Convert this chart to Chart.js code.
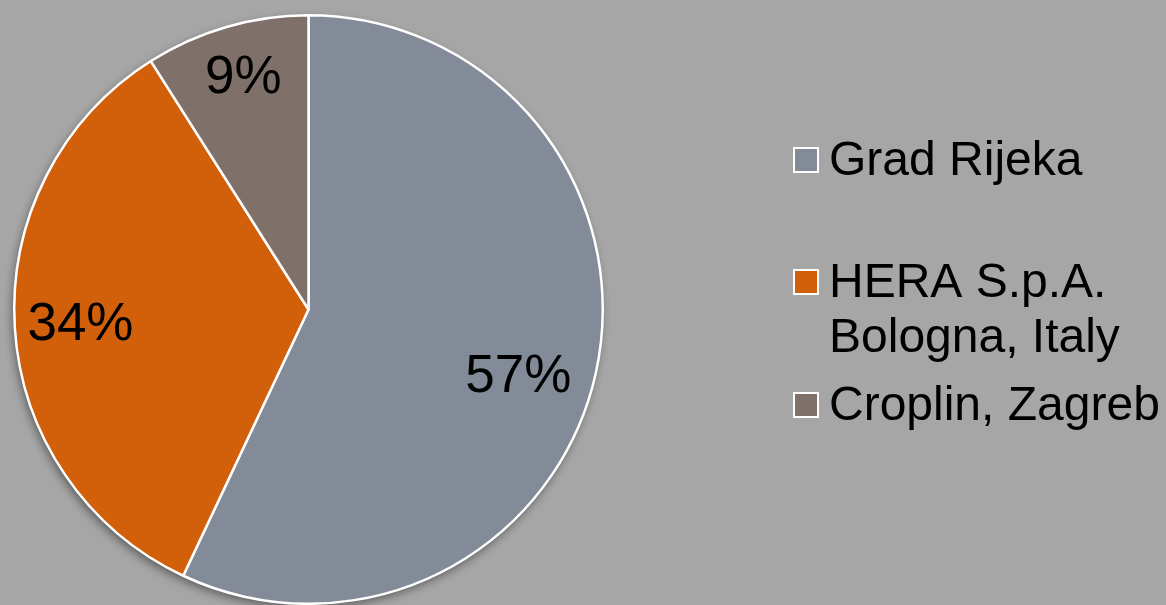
<!DOCTYPE html>
<html>
<head>
<meta charset="utf-8">
<script src="https://cdn.jsdelivr.net/npm/chart.js@4/dist/chart.umd.min.js"></script>
<style>
html,body{margin:0;padding:0;background:#a6a6a6;}
#wrap{width:1166px;height:605px;position:relative;}
</style>
</head>
<body>
<div id="wrap"><canvas id="c" width="1166" height="605"></canvas></div>
<script>
const categories = ['Grad Rijeka', ['HERA S.p.A.', 'Bologna, Italy'], 'Croplin, Zagreb'];
const shares = [57, 34, 9];
const sliceColors = ['#838b99', '#d2600a', '#7f706a'];

const FONT = '"Liberation Sans", Arial, sans-serif';

const shadowPlugin = {
  id: 'pieShadow',
  beforeDatasetsDraw(chart) {
    const arc = chart.getDatasetMeta(0).data[0];
    if (!arc) return;
    const ctx = chart.ctx;
    ctx.save();
    ctx.shadowColor = 'rgba(0,0,0,0.45)';
    ctx.shadowBlur = 10;
    ctx.shadowOffsetX = -2;
    ctx.shadowOffsetY = 4;
    ctx.fillStyle = '#888';
    ctx.beginPath();
    ctx.arc(arc.x, arc.y, arc.outerRadius, 0, Math.PI * 2);
    ctx.fill();
    ctx.restore();
  }
};

// label placement (best-fit style): radius factor and angle nudge (degrees) per slice
const labelRadius = [0.75, 0.777, 0.815];
const labelNudge = [5.4, -0.5, 0.4];

const labelPlugin = {
  id: 'pctLabels',
  afterDatasetsDraw(chart) {
    const ctx = chart.ctx;
    const meta = chart.getDatasetMeta(0);
    const data = chart.data.datasets[0].data;
    const total = data.reduce((a, b) => a + b, 0);
    ctx.save();
    ctx.font = '53px ' + FONT;
    ctx.fillStyle = '#000';
    ctx.textAlign = 'center';
    ctx.textBaseline = 'middle';
    meta.data.forEach((arc, i) => {
      const mid = (arc.startAngle + arc.endAngle) / 2 + labelNudge[i] * Math.PI / 180;
      const r = arc.outerRadius * labelRadius[i];
      const x = arc.x + Math.cos(mid) * r;
      const y = arc.y + Math.sin(mid) * r;
      ctx.fillText(Math.round(data[i] / total * 100) + '%', x, y);
    });
    ctx.restore();
  }
};

const legendPlugin = {
  id: 'sideLegend',
  afterDraw(chart) {
    const ctx = chart.ctx;
    const labels = chart.data.labels;
    const colors = chart.data.datasets[0].backgroundColor;
    const rowY = [160, 282, 405];
    const lineH = 55;
    ctx.save();
    ctx.font = '48px ' + FONT;
    ctx.textBaseline = 'middle';
    ctx.textAlign = 'left';
    labels.forEach((lab, i) => {
      const lines = Array.isArray(lab) ? lab : [lab];
      const y = rowY[i];
      ctx.fillStyle = '#ffffff';
      ctx.fillRect(793, y - 13, 26, 26);
      ctx.fillStyle = colors[i];
      ctx.fillRect(795, y - 11, 22, 22);
      ctx.fillStyle = '#000';
      lines.forEach((ln, k) => ctx.fillText(ln, 829, y + 2 + k * lineH));
    });
    ctx.restore();
  }
};

new Chart(document.getElementById('c'), {
  type: 'pie',
  data: {
    labels: categories,
    datasets: [{
      data: shares,
      backgroundColor: sliceColors,
      borderColor: '#ffffff',
      borderWidth: 2.5
    }]
  },
  options: {
    responsive: false,
    animation: false,
    layout: { padding: { left: 13, top: 14, right: 562, bottom: 0 } },
    plugins: {
      legend: { display: false },
      tooltip: { enabled: false }
    }
  },
  plugins: [shadowPlugin, labelPlugin, legendPlugin]
});
</script>
</body>
</html>
